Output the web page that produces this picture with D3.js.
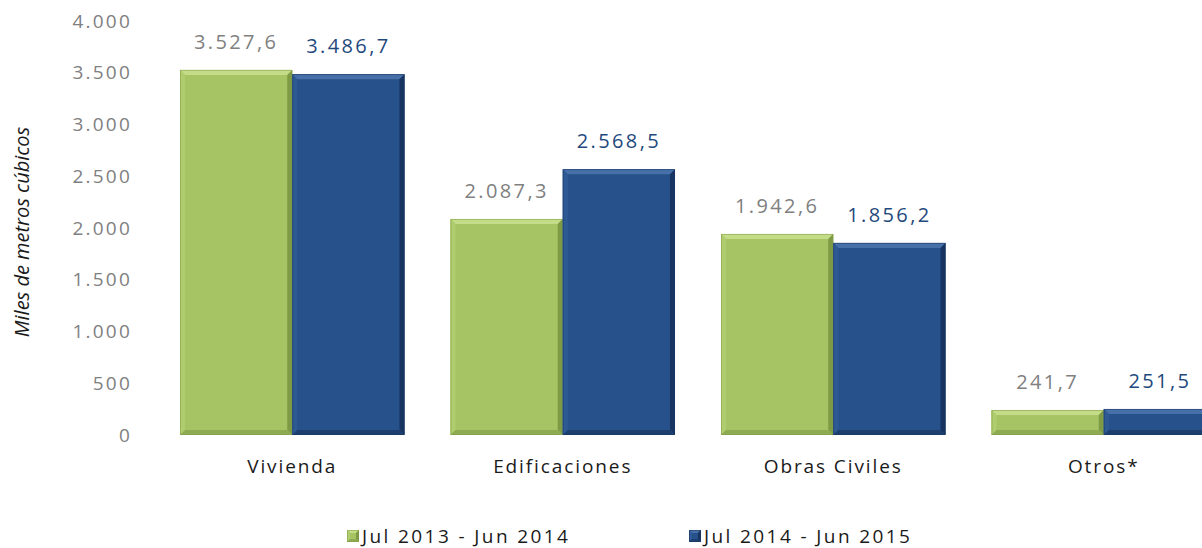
<!DOCTYPE html>
<html>
<head>
<meta charset="utf-8">
<script src="https://cdn.jsdelivr.net/npm/d3@7"></script>
<style>
  body { margin: 0; background: #fff; }
  svg text { font-family: "Open Sans", sans-serif; }
  .tick-label { fill: #808080; font-size: 19px; letter-spacing: 2.2px; }
  .cat-label { fill: #1a1a1a; font-size: 19px; letter-spacing: 1.9px; }
  .value { font-size: 20px; letter-spacing: 2.4px; }
  .legend-text { fill: #1a1a1a; font-size: 19px; letter-spacing: 2.4px; }
</style>
</head>
<body>
<svg width="1202" height="548"></svg>
<script>
// chart data
const categories = ["Vivienda", "Edificaciones", "Obras Civiles", "Otros*"];
const seriesNames = ["Jul 2013 - Jun 2014", "Jul 2014 - Jun 2015"];
const valuesA = [3527.6, 2087.3, 1942.6, 241.7];
const valuesB = [3486.7, 2568.5, 1856.2, 251.5];
const yTicks = [0, 500, 1000, 1500, 2000, 2500, 3000, 3500, 4000];

const svg = d3.select("svg");
const w = 1202;
const h = 548;

// colour sets: main, top, left, right, bottom
const palettes = [
  { main: "#a6c463", top: "#c4dc88", left: "#afcc6e", right: "#7f9a45", bottom: "#8fab52", label: "#808080" },
  { main: "#27518a", top: "#4870a8", left: "#2e5a94", right: "#173560", bottom: "#1d3f70", label: "#1f497d" }
];

const fmt = (v) => {
  const s = v.toFixed(1).split(".");
  return s[0].replace(/\B(?=(\d{3})+(?!\d))/g, ".") + "," + s[1];
};
const fmtTick = (v) => String(v).replace(/\B(?=(\d{3})+(?!\d))/g, ".");

const x = d3.scaleBand()
  .domain(categories)
  .range([157, 1239])
  .paddingInner(0.17)
  .paddingOuter(0.085);

const xs = d3.scaleBand()
  .domain([0, 1])
  .range([0, x.bandwidth()]);

const y = d3.scaleLinear()
  .domain([0, 4000])
  .range([435, 21]);

// y axis (labels only)
const yAxis = d3.axisLeft(y).tickValues(yTicks).tickFormat(fmtTick).tickSize(0).tickPadding(0);
const yg = svg.append("g")
  .attr("transform", "translate(132,0)")
  .call(yAxis)
  .attr("font-family", null)
  .attr("font-size", null);
yg.select(".domain").remove();
yg.selectAll("text").attr("class", "tick-label");

svg.append("text")
  .attr("transform", "translate(29,232) rotate(-90)")
  .attr("text-anchor", "middle")
  .style("font-style", "italic")
  .style("font-size", "20px")
  .style("fill", "#1a1a1a")
  .text("Miles de metros cúbicos");

// bevelled box
const bevel = (g, bx, by, bw, bh, p, b) => {
  b = Math.min(b, bh / 2, bw / 2);
  g.append("rect").attr("x", bx).attr("y", by).attr("width", bw).attr("height", bh).attr("fill", p.main);
  const faces = [
    [[bx, by], [bx + bw, by], [bx + bw - b, by + b], [bx + b, by + b], p.top],
    [[bx, by], [bx + b, by + b], [bx + b, by + bh - b], [bx, by + bh], p.left],
    [[bx + bw, by], [bx + bw, by + bh], [bx + bw - b, by + bh - b], [bx + bw - b, by + b], p.right],
    [[bx, by + bh], [bx + b, by + bh - b], [bx + bw - b, by + bh - b], [bx + bw, by + bh], p.bottom]
  ];
  faces.forEach(f => {
    g.append("polygon")
      .attr("points", f.slice(0, 4).map(pt => pt.join(",")).join(" "))
      .attr("fill", f[4]);
  });
  g.append("rect").attr("x", bx + 0.5).attr("y", by + 0.5).attr("width", bw - 1).attr("height", bh - 1)
    .attr("fill", "none").attr("stroke", p.right).attr("stroke-opacity", 0.5);
};

const series = [valuesA, valuesB];

categories.forEach((c, i) => {
  const g = svg.append("g").attr("transform", `translate(${x(c)},0)`);
  series.forEach((vals, s) => {
    const bx = xs(s);
    const by = y(vals[i]);
    bevel(g, bx, by, xs.bandwidth(), y(0) - by, palettes[s], 5);
    g.append("text")
      .attr("class", "value")
      .attr("x", bx + xs.bandwidth() / 2)
      .attr("y", by - 21)
      .attr("text-anchor", "middle")
      .style("fill", palettes[s].label)
      .text(fmt(vals[i]));
  });
});

// category labels
const xAxis = d3.axisBottom(x).tickSize(0).tickPadding(0);
const xg = svg.append("g")
  .attr("transform", "translate(0,466)")
  .call(xAxis)
  .attr("font-family", null)
  .attr("font-size", null);
xg.select(".domain").remove();
xg.selectAll("text")
  .attr("class", "cat-label")
  .attr("dy", "0.35em");

// legend
const legendX = [347, 689];
seriesNames.forEach((name, s) => {
  const g = svg.append("g").attr("transform", `translate(${legendX[s]},530)`);
  bevel(g, 0, 0, 12, 12, palettes[s], 3);
  g.append("text")
    .attr("class", "legend-text")
    .attr("x", 15)
    .attr("y", 6)
    .attr("dy", "0.35em")
    .text(name);
});
</script>
</body>
</html>
